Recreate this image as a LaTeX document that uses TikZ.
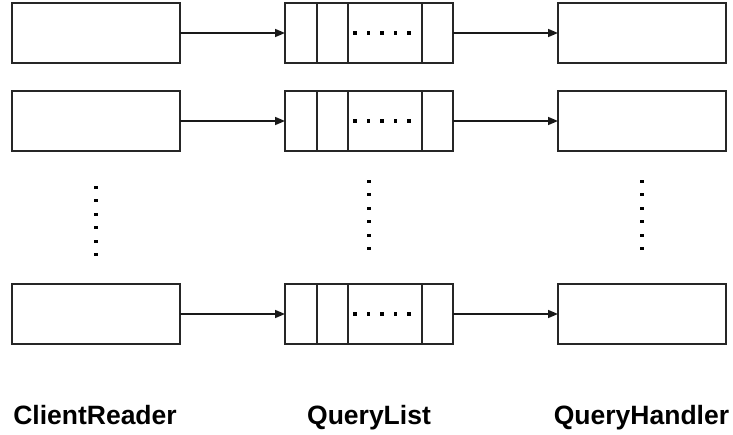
\documentclass[tikz,border=0pt]{standalone}
\usepackage{fontspec}
\setmainfont{Liberation Sans}
\usetikzlibrary{arrows.meta}
\tikzset{
  box/.style={draw=black!85, line width=1.8pt, rectangle, minimum width=168pt,
    minimum height=60pt, inner sep=0pt, outer sep=0pt},
  flow/.style={draw=black!90, line width=1.5pt, -{Triangle[length=10pt,width=8pt]}},
  divider/.style={draw=black!85, line width=1.8pt},
  dot/.style={fill=black, inner sep=0pt, minimum size=3.2pt, rectangle, draw=none},
  title/.style={font=\bfseries\fontsize{26.5}{26.5}\selectfont, anchor=base, inner sep=0pt}
}
\begin{document}
\begin{tikzpicture}[x=1pt,y=-1pt]
  \useasboundingbox (0,0) rectangle (733,435);
  % three rows of reader -> queue -> handler
  \foreach \r/\y in {1/33, 2/121, 3/314} {
    \node[box] (cr\r) at (96,\y) {};
    \node[box] (ql\r) at (369,\y) {};
    \node[box] (qh\r) at (642,\y) {};
    % queue slots
    \foreach \dx in {31.7, 63, 136.7}
      \draw[divider] ([xshift=\dx pt]ql\r.north west) -- ([xshift=\dx pt]ql\r.south west);
    \foreach \dx in {70, 83.5, 97, 110.5, 124}
      \node[dot] at ([xshift=\dx pt]ql\r.west) {};
    \draw[flow] (cr\r) -- (ql\r);
    \draw[flow] (ql\r) -- (qh\r);
  }
  % vertical ellipses between rows
  \foreach \i in {0,...,5} {
    \node[dot] at (96, 187.3+13.5*\i) {};
    \node[dot] at (369, 181.3+13.5*\i) {};
    \node[dot] at (642, 181.3+13.5*\i) {};
  }
  % column titles
  \node[title] (t1) at (95,424) {ClientReader};
  \node[title] (t2) at (369,424) {QueryList};
  \node[title] (t3) at (641.5,424) {QueryHandler};
\end{tikzpicture}
\end{document}
